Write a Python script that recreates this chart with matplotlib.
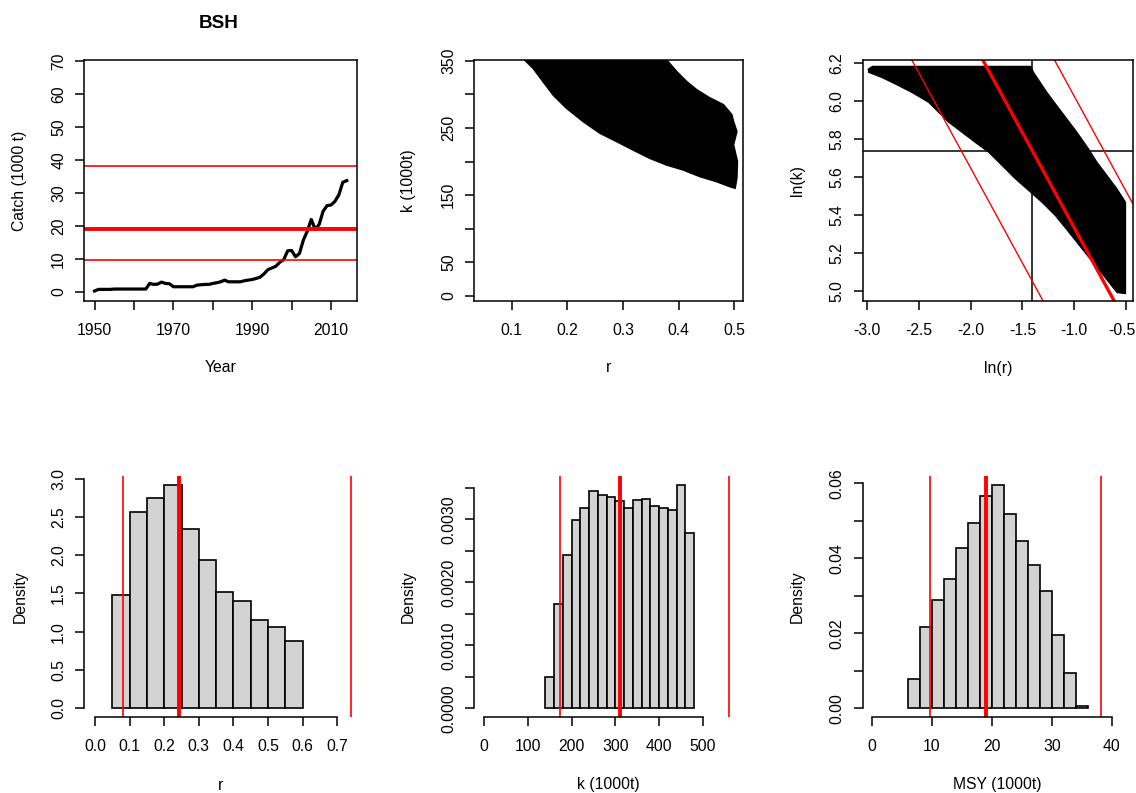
import numpy as np
import matplotlib
matplotlib.use("Agg")
import matplotlib.pyplot as plt
import matplotlib.transforms as mtransforms
from matplotlib.patches import Polygon

plt.rcParams['font.family'] = ['Liberation Sans', 'DejaVu Sans']

# ---------------- data ----------------
title = "BSH"
years = list(range(1950, 2015))
catch = [0.3, 0.8, 0.8, 0.8, 0.8, 0.9, 0.9, 0.9, 0.9, 0.9, 0.9, 0.9, 0.9, 0.9,
         2.6, 2.3, 2.4, 3.0, 2.6, 2.5, 1.6, 1.6, 1.6, 1.6, 1.6, 1.6, 2.1, 2.2,
         2.3, 2.3, 2.6, 2.8, 3.1, 3.6, 3.1, 3.1, 3.1, 3.1, 3.4, 3.6, 3.8, 4.1,
         4.5, 5.5, 6.8, 7.3, 7.8, 9.0, 9.8, 12.5, 12.6, 10.7, 11.7, 15.8, 18.5,
         22.0, 19.0, 20.5, 24.5, 26.2, 26.4, 27.5, 29.5, 33.3, 33.8]

msy_est, msy_low, msy_high = 19.1, 9.6, 38.2
r_est, r_low, r_high = 0.244, 0.082, 0.740
k_est, k_low, k_high = 311, 173, 560

# outline of the viable r-k cloud (r, k in 1000 t)
cloud_r = [0.118, 0.124, 0.139, 0.157, 0.175, 0.199, 0.229, 0.259, 0.289, 0.318,
           0.348, 0.378, 0.408, 0.438, 0.468, 0.492, 0.501, 0.504, 0.505, 0.498,
           0.504, 0.498, 0.495, 0.480, 0.456, 0.432, 0.414, 0.396, 0.378, 0.372]
cloud_k = [365, 351, 338.7, 318.8, 299, 279.4, 259.5, 242.3, 229.9, 217.6,
           205.2, 195.3, 187.9, 178, 170.5, 163, 160.8, 175.6, 200, 225,
           244.7, 259.5, 269.5, 284.3, 294.2, 306.5, 318.8, 333.7, 351, 365]

# outline of the log cloud (ln r, ln k)
lcloud_r = [-2.986, -2.858, -2.729, -2.567, -2.406, -2.277, -2.212, -2.083, -1.955,
            -1.825, -1.696, -1.567, -1.438, -1.309, -1.180, -1.050, -0.922, -0.793,
            -0.663, -0.583, -0.502, -0.502, -0.586, -0.682, -0.779, -0.860, -0.973,
            -1.070, -1.167, -1.263, -1.328, -1.393, -1.418, -2.95, -2.99]
lcloud_k = [6.153, 6.126, 6.092, 6.047, 5.995, 5.925, 5.890, 5.837, 5.784,
            5.732, 5.662, 5.592, 5.530, 5.468, 5.398, 5.311, 5.223, 5.135,
            5.047, 4.992, 4.986, 5.468, 5.539, 5.609, 5.679, 5.749, 5.837,
            5.907, 5.977, 6.047, 6.100, 6.153, 6.184, 6.184, 6.170]

r_edges = [0.05, 0.10, 0.15, 0.20, 0.25, 0.30, 0.35, 0.40, 0.45, 0.50, 0.55, 0.60]
r_density = [1.478, 2.567, 2.742, 2.921, 2.344, 1.933, 1.517, 1.399, 1.159, 1.058, 0.883]

k_edges = [140, 160, 180, 200, 220, 240, 260, 280, 300, 320, 340, 360, 380, 400,
           420, 440, 460, 480]
k_density = [0.000494, 0.001652, 0.002443, 0.002990, 0.003187, 0.003452, 0.003383,
             0.003351, 0.003288, 0.003187, 0.003309, 0.003330, 0.003213, 0.003187,
             0.003144, 0.003553, 0.002778]

msy_edges = [6, 8, 10, 12, 14, 16, 18, 20, 22, 24, 26, 28, 30, 32, 34, 36]
msy_density = [0.00785, 0.02157, 0.02889, 0.03450, 0.04270, 0.04939, 0.05670, 0.05964,
               0.05189, 0.04466, 0.03816, 0.03129, 0.01961, 0.00945, 0.00062]

# ---------------- layout ----------------
W, H = 1136, 793
fig = plt.figure(figsize=(W / 100, H / 100), dpi=100)
FS = 11.3
LW = 1.1


def px_axes(l, t, r, b):
    return fig.add_axes([l / W, 1 - b / H, (r - l) / W, (b - t) / H])


def ftext(x, y, s, rot=0, **kw):
    fig.text(x / W, 1 - y / H, s, ha='center', va='center', rotation=rot,
             fontsize=kw.pop('fontsize', FS), **kw)


def style(ax, xt, xl, yt, yl, box=True):
    ax.set_xticks(xt)
    ax.set_xticklabels(xl)
    ax.set_yticks(yt)
    ax.set_yticklabels(yl)
    ax.tick_params(direction='out', length=6.5, width=LW, labelsize=FS, colors='black')
    ax.tick_params(axis='x', pad=9)
    ax.tick_params(axis='y', pad=6.5)
    for lab in ax.get_yticklabels():
        lab.set_rotation(90)
        lab.set_va('center')
    for s in ax.spines.values():
        s.set_linewidth(LW)
    if not box:
        ax.spines['top'].set_visible(False)
        ax.spines['right'].set_visible(False)
        ax.spines['bottom'].set_bounds(xt[0], xt[-1])
        ax.spines['left'].set_bounds(yt[0], yt[-1])


top = (60, 301)
bot = (475.7, 717.3)
cols = [(84.3, 357), (474.3, 743.3), (862.7, 1132.7)]
ylab_x = [20, 408, 797]

# ---- top-left: catch ----
ax = px_axes(cols[0][0], top[0], cols[0][1], top[1])
ax.plot(years, catch, color='black', lw=2.3, solid_joinstyle='round')
ax.axhline(msy_est, color='red', lw=2.8)
ax.axhline(msy_low, color='red', lw=1.2)
ax.axhline(msy_high, color='red', lw=1.2)
ax.set_xlim(1947.4, 2016.6)
ax.set_ylim(-2.73, 70.4)
style(ax, [1950, 1960, 1970, 1980, 1990, 2000, 2010],
      ['1950', '', '1970', '', '1990', '', '2010'],
      [0, 10, 20, 30, 40, 50, 60, 70],
      ['0', '10', '20', '30', '40', '50', '60', '70'])
ftext((cols[0][0] + cols[0][1]) / 2 - 2, 23, title, fontsize=13.6, fontweight='bold')
ftext((cols[0][0] + cols[0][1]) / 2, 368, 'Year')
ftext(ylab_x[0], (top[0] + top[1]) / 2, 'Catch (1000 t)', rot=90)

# ---- top-middle: r-k cloud ----
ax = px_axes(cols[1][0], top[0], cols[1][1], top[1])
ax.add_patch(Polygon(np.column_stack([cloud_r, cloud_k]), closed=True,
                     facecolor='black', edgecolor='black', lw=1.5))
ax.set_xlim(0.033, 0.516)
ax.set_ylim(-7.4, 351)
style(ax, [0.1, 0.2, 0.3, 0.4, 0.5], ['0.1', '0.2', '0.3', '0.4', '0.5'],
      [0, 50, 100, 150, 200, 250, 300, 350],
      ['0', '50', '', '150', '', '250', '', '350'])
ftext((cols[1][0] + cols[1][1]) / 2, 368, 'r')
ftext(ylab_x[1], (top[0] + top[1]) / 2, 'k (1000t)', rot=90)

# ---- top-right: log cloud ----
ax = px_axes(cols[2][0], top[0], cols[2][1], top[1])
ax.add_patch(Polygon(np.column_stack([lcloud_r, lcloud_k]), closed=True,
                     facecolor='black', edgecolor='black', lw=1.0))
ax.axhline(np.log(k_est), color='black', lw=1.1)
ax.axvline(np.log(r_est), color='black', lw=1.1)
ax.axline((0, np.log(4 * msy_est)), slope=-1, color='red', lw=2.4)
ax.axline((0, np.log(4 * msy_low)), slope=-1, color='red', lw=1.0)
ax.axline((0, np.log(4 * msy_high)), slope=-1, color='red', lw=1.0)
ax.set_xlim(-3.045, -0.432)
ax.set_ylim(4.947, 6.218)
style(ax, [-3.0, -2.5, -2.0, -1.5, -1.0, -0.5],
      ['-3.0', '-2.5', '-2.0', '-1.5', '-1.0', '-0.5'],
      [5.0, 5.2, 5.4, 5.6, 5.8, 6.0, 6.2],
      ['5.0', '5.2', '5.4', '5.6', '5.8', '6.0', '6.2'])
# keep the last label inside the canvas
last = ax.get_xticklabels()[-1]
last.set_transform(last.get_transform() +
                   mtransforms.ScaledTranslation(-4 / 100, 0, fig.dpi_scale_trans))
ftext((cols[2][0] + cols[2][1]) / 2, 368, 'ln(r)')
ftext(ylab_x[2], (top[0] + top[1]) / 2, 'ln(k)', rot=90)


def hist(ax, edges, dens, lines):
    widths = np.diff(edges)
    ax.bar(edges[:-1], dens, width=widths, align='edge', color='#d3d3d3',
           edgecolor='black', linewidth=1.2)
    lo, est, hi = lines
    ax.axvline(est, color='red', lw=2.8)
    ax.axvline(lo, color='red', lw=1.2)
    ax.axvline(hi, color='red', lw=1.2)
    m = max(dens)
    ax.set_ylim(-0.04 * m, 1.04 * m)


# ---- bottom-left: r histogram ----
ax = px_axes(cols[0][0], bot[0], cols[0][1], bot[1])
hist(ax, r_edges, r_density, (r_low, r_est, r_high))
ax.set_xlim(-0.031, 0.757)
style(ax, [0.0, 0.1, 0.2, 0.3, 0.4, 0.5, 0.6, 0.7],
      ['0.0', '0.1', '0.2', '0.3', '0.4', '0.5', '0.6', '0.7'],
      [0.0, 0.5, 1.0, 1.5, 2.0, 2.5, 3.0],
      ['0.0', '0.5', '1.0', '1.5', '2.0', '2.5', '3.0'], box=False)
ftext((cols[0][0] + cols[0][1]) / 2, 785, 'r')
ftext(ylab_x[0], (bot[0] + bot[1]) / 2, 'Density', rot=90)

# ---- bottom-middle: k histogram ----
ax = px_axes(cols[1][0], bot[0], cols[1][1], bot[1])
hist(ax, k_edges, k_density, (k_low, k_est, k_high))
ax.set_xlim(-22.8, 592.8)
style(ax, [0, 100, 200, 300, 400, 500], ['0', '100', '200', '300', '400', '500'],
      [0.0, 0.0005, 0.0010, 0.0015, 0.0020, 0.0025, 0.0030, 0.0035],
      ['0.0000', '', '0.0010', '', '0.0020', '', '0.0030', ''], box=False)
ftext((cols[1][0] + cols[1][1]) / 2, 784, 'k (1000t)')
ftext(ylab_x[1], (bot[0] + bot[1]) / 2, 'Density', rot=90)

# ---- bottom-right: MSY histogram ----
ax = px_axes(cols[2][0], bot[0], cols[2][1], bot[1])
hist(ax, msy_edges, msy_density, (msy_low, msy_est, msy_high))
ax.set_xlim(-1.56, 43.5)
style(ax, [0, 10, 20, 30, 40], ['0', '10', '20', '30', '40'],
      [0.0, 0.01, 0.02, 0.03, 0.04, 0.05, 0.06],
      ['0.00', '', '0.02', '', '0.04', '', '0.06'], box=False)
ftext((cols[2][0] + cols[2][1]) / 2, 784, 'MSY (1000t)')
ftext(ylab_x[2], (bot[0] + bot[1]) / 2, 'Density', rot=90)

fig.savefig('out.png', dpi=100)
